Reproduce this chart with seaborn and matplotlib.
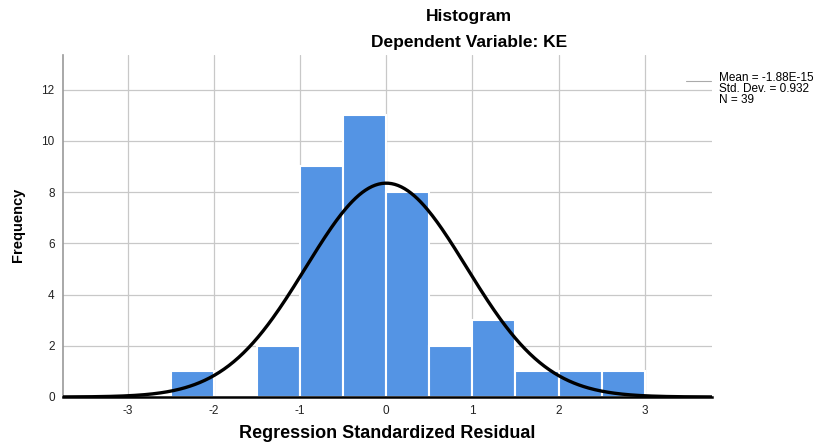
import numpy as np
import pandas as pd
import matplotlib
matplotlib.use("Agg")
import matplotlib.pyplot as plt
import seaborn as sns

# Data
bin_edges = [-2.5, -2.0, -1.5, -1.0, -0.5, 0.0, 0.5, 1.0, 1.5, 2.0, 2.5, 3.0]
counts = [1, 0, 2, 9, 11, 8, 2, 3, 1, 1, 1]
mean_val = -1.88e-15
std_val = 0.932
n_val = 39
x_ticks = [-3, -2, -1, 0, 1, 2, 3]
y_ticks = [0, 2, 4, 6, 8, 10, 12]

sns.set_theme(style="white")
plt.rcParams['font.family'] = ['Liberation Sans', 'DejaVu Sans']
plt.rcParams['text.color'] = 'black'
plt.rcParams['axes.labelcolor'] = 'black'

fig = plt.figure(figsize=(8.17, 4.46), dpi=100)
ax = fig.add_axes([0.0771, 0.1099, 0.7944, 0.7668])

centers = [(bin_edges[i] + bin_edges[i + 1]) / 2 for i in range(len(counts))]
df = pd.DataFrame({"x": centers, "w": counts})

ax.set_axisbelow(True)
for xt in x_ticks:
    ax.axvline(xt, color="#c8c8c8", lw=0.9, zorder=0)
for yt in y_ticks[1:]:
    ax.axhline(yt, color="#c8c8c8", lw=0.9, zorder=0)

sns.histplot(data=df, x="x", weights="w", bins=bin_edges, ax=ax,
             color="#5494e4", alpha=1.0, edgecolor="white", linewidth=1.5, zorder=2)

xs = np.linspace(-3.75, 3.78, 400)
binw = bin_edges[1] - bin_edges[0]
ys = n_val * binw / (std_val * np.sqrt(2 * np.pi)) * np.exp(-0.5 * ((xs - mean_val) / std_val) ** 2)
sns.lineplot(x=xs, y=ys, ax=ax, color="black", lw=2.4, zorder=3)

ax.set_xlim(-3.75, 3.78)
ax.set_ylim(0, 13.35)
ax.set_xticks(x_ticks)
ax.set_yticks(y_ticks)
ax.set_xticklabels([str(t) for t in x_ticks], fontsize=8.5, color="#222222")
ax.set_yticklabels([str(t) for t in y_ticks], fontsize=8.5, color="#222222")
ax.tick_params(axis="both", length=0, pad=6)

for s in ["top", "right"]:
    ax.spines[s].set_visible(False)
ax.spines["left"].set_color("#999999")
ax.spines["left"].set_linewidth(1.2)
ax.spines["bottom"].set_color("black")
ax.spines["bottom"].set_linewidth(1.8)

ax.set_xlabel("Regression Standardized Residual", fontsize=13, fontweight="bold")
ax.set_ylabel("Frequency", fontsize=10.5, fontweight="bold")
ax_w = 0.7944 * 817
ax_h = 0.7668 * 446
ax.xaxis.set_label_coords((387 - 63) / ax_w, -(434 - 397) / ax_h)
ax.yaxis.set_label_coords(-(63 - 18) / ax_w, (397 - 225) / ax_h)
ax.xaxis.label.set_va("center")
ax.yaxis.label.set_va("center")

fig.text(469 / 817, 1 - 16 / 446, "Histogram", ha="center", va="center",
         fontsize=12.5, fontweight="bold", color="black")
fig.text(469 / 817, 1 - 43 / 446, "Dependent Variable: KE", ha="center", va="center",
         fontsize=12.5, fontweight="bold", color="black")

fig.add_artist(plt.Line2D([686 / 817, 711 / 817], [1 - 81 / 446, 1 - 81 / 446],
                          color="#aaaaaa", lw=0.8))
fig.text(719 / 817, 1 - 72 / 446,
         f"Mean = -1.88E-15\nStd. Dev. = {std_val}\nN = {n_val}",
         ha="left", va="top", fontsize=8.5, linespacing=0.88, color="black")

fig.savefig("out.png", dpi=100)
